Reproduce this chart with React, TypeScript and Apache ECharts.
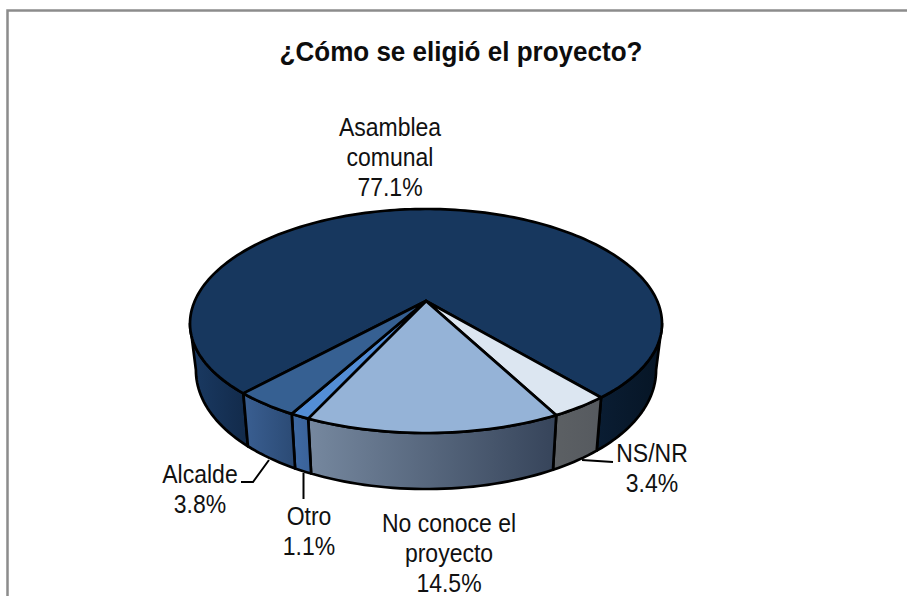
import React, { useEffect, useRef } from "react";
import * as echarts from "echarts";

const chartTitle = "¿Cómo se eligió el proyecto?";
const categories = ["Asamblea\ncomunal", "NS/NR", "No conoce el\nproyecto", "Otro", "Alcalde"];
const values = [77.1, 3.4, 14.5, 1.1, 3.8];
const topColors = ["#17375e", "#dce6f1", "#95b3d7", "#538dd5", "#366092"];
const wallStops: string[][] = [
  ["#1a3a63", "#122a4a"],
  ["#5c6064", "#565a5f"],
  ["#76889f", "#36445a"],
  ["#3f6aa3", "#3a6299"],
  ["#3a5f92", "#2b4a74"],
];
const labelAnchors = [
  [390, 157],
  [652, 468],
  [449, 553],
  [309, 531],
  [200, 489],
];
const leaders: number[][][] = [
  [],
  [[582, 460], [613, 462]],
  [],
  [[303.5, 473], [303.5, 499]],
  [[269, 460], [253, 482], [241, 482]],
];

const CX = 426, APEX_Y = 301, NEAR = 132, FAR = 92, HALF_WIDTH = 236;
const P = (NEAR - FAR) / (NEAR + FAR);
const PX = 0.2;
const K = NEAR * (1 - P);
const R = HALF_WIDTH * Math.sqrt(1 - PX * PX);
const START_DEG = 222.3;
const DEG = Math.PI / 180;

const total = values.reduce((a, b) => a + b, 0);

function topPoint(phi: number) {
  const u = Math.sin(phi * DEG), v = -Math.cos(phi * DEG);
  return [CX + (R * u) / (1 - PX * v), APEX_Y + (K * v) / (1 - P * v), v];
}
function bottomPoint(phi: number) {
  const t = topPoint(phi);
  return [CX + 0.975 * (t[0] - CX), t[1] + 44 + 12 * t[2]];
}
function arc(a: number, b: number, fn: (p: number) => number[]) {
  const n = Math.max(2, Math.ceil(Math.abs(b - a) / 1.5));
  const pts: number[][] = [];
  for (let i = 0; i <= n; i++) {
    const q = fn(a + ((b - a) * i) / n);
    pts.push([q[0], q[1]]);
  }
  return pts;
}

const tangent = Math.asin(PX) / DEG;
const LEFT_LIMIT = 270 - tangent;
const RIGHT_LIMIT = 90 + tangent + 360;

export default function App() {
  const ref = useRef<HTMLDivElement>(null);
  useEffect(() => {
    const chart = echarts.init(ref.current!, null, { renderer: "svg" });
    const wall = (a: number, b: number, i: number, c0?: string, c1?: string) => ({
      type: "polygon",
      shape: { points: [...arc(a, b, topPoint), ...arc(b, a, bottomPoint)] },
      style: {
        fill: new echarts.graphic.LinearGradient(0, 0, 1, 0, [
          { offset: 0, color: c0 ?? wallStops[i][0] },
          { offset: 1, color: c1 ?? wallStops[i][1] },
        ]),
        stroke: "#000",
        lineWidth: 2.7,
        lineJoin: "round",
      },
    });
    chart.setOption({
      animation: false,
      backgroundColor: "#ffffff",
      graphic: [
        {
          type: "rect",
          shape: { x: 7.5, y: 10.5, width: 1200, height: 900 },
          style: { fill: "none", stroke: "#8c8c8c", lineWidth: 2.5 },
          silent: true,
          z: -1,
        },
        {
          type: "text",
          x: 461,
          y: 52,
          scaleX: 0.93,
          style: {
            text: chartTitle,
            fontFamily: "Liberation Sans",
            fontSize: 28,
            fontWeight: "bold",
            fill: "#0d0d0d",
            align: "center",
            verticalAlign: "middle",
          },
          silent: true,
        },
      ],
      series: [
        {
          type: "custom",
          coordinateSystem: "none",
          silent: true,
          data: values.map((v) => [v]),
          renderItem: (params: any, api: any) => {
            const i = params.dataIndex;
            const before = values.slice(0, i).reduce((a, b) => a + b, 0);
            const a = START_DEG + (before / total) * 360;
            const b = a + (api.value(0) / total) * 360;
            const children: any[] = [];
            if (i === 0) {
              children.push(wall(a, LEFT_LIMIT, i));
              children.push(wall(RIGHT_LIMIT, b, i, "#0a1d33", "#061525"));
            } else {
              children.push(wall(a, b, i));
            }
            children.push({
              type: "polygon",
              shape: { points: [[CX, APEX_Y], ...arc(a, b, topPoint)] },
              style: { fill: topColors[i], stroke: "#000", lineWidth: 2.7, lineJoin: "round" },
            });
            if (leaders[i].length) {
              children.push({
                type: "polyline",
                shape: { points: leaders[i] },
                style: { fill: "none", stroke: "#000", lineWidth: 2 },
              });
            }
            children.push({
              type: "text",
              x: labelAnchors[i][0],
              y: labelAnchors[i][1],
              scaleX: 0.92,
              style: {
                text: `${categories[i]}\n${values[i].toFixed(1)}%`,
                fontFamily: "Liberation Sans",
                fontSize: 25,
                lineHeight: 30,
                fill: "#111",
                align: "center",
                verticalAlign: "middle",
              },
            });
            return { type: "group", children };
          },
        },
      ],
    });
    return () => chart.dispose();
  }, []);
  return <div ref={ref} style={{ position: "absolute", left: 0, top: 0, width: 907, height: 596 }} />;
}
